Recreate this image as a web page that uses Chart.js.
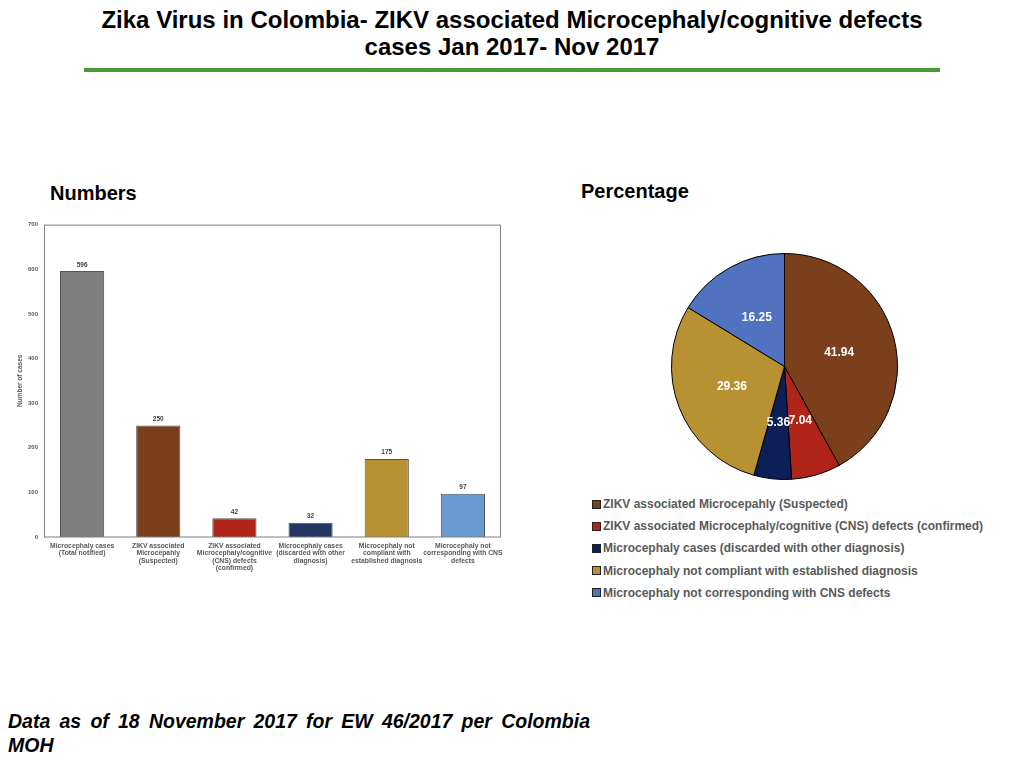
<!DOCTYPE html>
<html>
<head>
<meta charset="utf-8">
<script src="https://cdn.jsdelivr.net/npm/chart.js@4.4.0/dist/chart.umd.min.js"></script>
<style>
  html, body { margin:0; padding:0; background:#fff; }
  body { width:1024px; height:768px; position:relative; overflow:hidden; font-family:"Liberation Sans", Arial, sans-serif; }
  #title { position:absolute; left:0; top:6px; width:1024px; text-align:center; font-weight:bold; font-size:24px; line-height:27px; color:#000; }
  #rule { position:absolute; left:84px; top:68px; width:856px; height:4px; background:#4b9a35; }
  .sub { position:absolute; font-weight:bold; font-size:20px; color:#000; }
  #barWrap { position:absolute; left:0; top:215px; width:515px; height:370px; }
  #pieWrap { position:absolute; left:671px; top:253px; width:227px; height:227px; }
  #legend { position:absolute; left:592px; top:493px; font-weight:bold; font-size:12px; color:#595959; }
  #legend .item { height:22.2px; display:flex; align-items:center; white-space:nowrap; }
  #legend .box { width:7px; height:7px; border:1px solid #222; margin-right:2px; }
  .foot { position:absolute; left:8px; width:582px; font-weight:bold; font-style:italic; font-size:19.5px; line-height:24px; color:#000; white-space:nowrap; }
  #foot1 { top:709px; text-align:justify; text-align-last:justify; white-space:normal; }
  #foot2 { top:733px; }
</style>
</head>
<body>
<div id="title">Zika Virus in Colombia- ZIKV associated Microcephaly/cognitive defects<br>cases Jan 2017- Nov 2017</div>
<div id="rule"></div>
<div class="sub" style="left:50px; top:182px;">Numbers</div>
<div class="sub" style="left:581px; top:180px;">Percentage</div>
<div id="barWrap"><canvas id="bar"></canvas></div>
<div id="pieWrap"><canvas id="pie"></canvas></div>
<div id="legend"></div>
<div class="foot" id="foot1">Data as of 18 November 2017 for EW 46/2017 per Colombia</div>
<div class="foot" id="foot2">MOH</div>
<script>
// ---- Data ----
const barCategories = [
  ["Microcephaly cases", "(Total notified)"],
  ["ZIKV associated", "Microcepahly", "(Suspected)"],
  ["ZIKV associated", "Microcephaly/cognitive", "(CNS) defects", "(confirmed)"],
  ["Microcephaly cases", "(discarded with other", "diagnosis)"],
  ["Microcephaly not", "compliant with", "established diagnosis"],
  ["Microcephaly not", "corresponding with CNS", "defects"]
];
const barValues = [596, 250, 42, 32, 175, 97];
const barColors = ["#7f7f7f", "#7b3f1b", "#b0241a", "#243763", "#b89232", "#6a9ad2"];
const yTicks = [0, 100, 200, 300, 400, 500, 600, 700];

const pieLabels = [
  "ZIKV associated Microcepahly (Suspected)",
  "ZIKV associated Microcephaly/cognitive (CNS) defects (confirmed)",
  "Microcephaly cases (discarded with other diagnosis)",
  "Microcephaly not compliant with established diagnosis",
  "Microcephaly not corresponding with CNS defects"
];
const pieValues = [41.94, 7.04, 5.36, 29.36, 16.25];
const pieColors = ["#7b3f1b", "#b0241a", "#0c1f57", "#b89232", "#5072c0"];

// ---- Bar chart ----
const frameAndLabels = {
  id: "frameAndLabels",
  afterDatasetsDraw(chart) {
    const { ctx, chartArea } = chart;
    ctx.save();
    ctx.strokeStyle = "#7f7f7f";
    ctx.lineWidth = 1;
    ctx.strokeRect(chartArea.left + 0.5, chartArea.top + 0.5, chartArea.right - chartArea.left - 1, chartArea.bottom - chartArea.top - 0.5);
    const meta = chart.getDatasetMeta(0);
    ctx.fillStyle = "#404040";
    ctx.font = "bold 6.5px 'Liberation Sans', Arial, sans-serif";
    ctx.textAlign = "center";
    ctx.textBaseline = "bottom";
    meta.data.forEach((bar, i) => {
      ctx.fillText(String(barValues[i]), bar.x, bar.y - 3);
    });
    // y axis title
    ctx.translate(20, (chartArea.top + chartArea.bottom) / 2);
    ctx.rotate(-Math.PI / 2);
    ctx.textBaseline = "middle";
    ctx.fillStyle = "#595959";
    ctx.font = "bold 6.5px 'Liberation Sans', Arial, sans-serif";
    ctx.fillText("Number of cases", 0, 0);
    ctx.restore();
  }
};

new Chart(document.getElementById("bar"), {
  type: "bar",
  data: {
    labels: barCategories,
    datasets: [{
      data: barValues,
      backgroundColor: barColors,
      borderColor: "#555555",
      borderWidth: 1,
      barPercentage: 0.58,
      categoryPercentage: 1.0
    }]
  },
  options: {
    responsive: true,
    maintainAspectRatio: false,
    animation: false,
    layout: { padding: { left: 0, right: 14, top: 8, bottom: 0 } },
    plugins: { legend: { display: false }, tooltip: { enabled: false } },
    scales: {
      x: {
        grid: { display: false, drawTicks: false },
        border: { display: false },
        ticks: {
          color: "#595959",
          font: { size: 6.8, weight: "bold", family: "'Liberation Sans', Arial, sans-serif", lineHeight: 1.1 },
          padding: 5,
          maxRotation: 0,
          autoSkip: false
        },
        afterFit(scale) { scale.height = 48; }
      },
      y: {
        min: 0, max: 700,
        afterBuildTicks(scale) { scale.ticks = yTicks.map(v => ({ value: v })); },
        grid: { display: false, drawTicks: false },
        border: { display: false },
        ticks: {
          color: "#595959",
          font: { size: 6, weight: "bold", family: "'Liberation Sans', Arial, sans-serif" },
          padding: 6
        },
        afterFit(scale) { scale.width = 44; }
      }
    }
  },
  plugins: [frameAndLabels]
});

// ---- Pie chart ----
const pieValueLabels = {
  id: "pieValueLabels",
  afterDatasetsDraw(chart) {
    const { ctx } = chart;
    const meta = chart.getDatasetMeta(0);
    ctx.save();
    ctx.fillStyle = "#ffffff";
    ctx.font = "bold 12px 'Liberation Sans', Arial, sans-serif";
    ctx.textAlign = "center";
    ctx.textBaseline = "middle";
    meta.data.forEach((arc, i) => {
      const p = arc.getCenterPoint();
      ctx.fillText(pieValues[i].toFixed(2), p.x, p.y);
    });
    ctx.restore();
  }
};

new Chart(document.getElementById("pie"), {
  type: "pie",
  data: {
    labels: pieLabels,
    datasets: [{
      data: pieValues,
      backgroundColor: pieColors,
      borderColor: "#000000",
      borderWidth: 1
    }]
  },
  options: {
    responsive: true,
    maintainAspectRatio: false,
    animation: false,
    layout: { padding: 0 },
    plugins: { legend: { display: false }, tooltip: { enabled: false } }
  },
  plugins: [pieValueLabels]
});

// ---- HTML legend ----
const legendEl = document.getElementById("legend");
pieLabels.forEach((lab, i) => {
  const item = document.createElement("div");
  item.className = "item";
  const box = document.createElement("span");
  box.className = "box";
  box.style.background = pieColors[i];
  const txt = document.createElement("span");
  txt.textContent = lab;
  item.appendChild(box);
  item.appendChild(txt);
  legendEl.appendChild(item);
});
</script>
</body>
</html>
